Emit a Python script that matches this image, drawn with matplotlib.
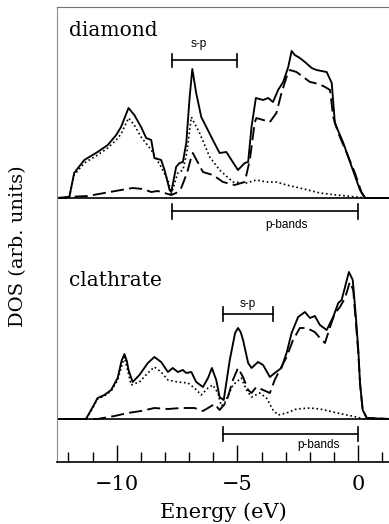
import matplotlib
matplotlib.use('Agg')
import matplotlib.pyplot as plt
import numpy as np
from matplotlib.ticker import MultipleLocator

# energies (eV) and DOS heights (arb. units)
# diamond, total
E_dia_tot = [-12.5, -12.17, -11.96, -11.76, -11.34, -10.79, -10.37, -10.02, -9.82, -9.51,
             -9.27, -8.99, -8.78, -8.57, -8.44, -8.16, -8.02, -7.81, -7.74, -7.54, -7.40,
             -7.26, -7.12, -6.98, -6.87, -6.71, -6.50, -6.29, -6.02, -5.74, -5.46, -5.25,
             -4.98, -4.70, -4.56, -4.42, -4.24, -3.94, -3.73, -3.53, -3.32, -3.11, -2.90,
             -2.76, -2.63, -2.42, -2.21, -1.93, -1.73, -1.31, -1.10, -0.97, -0.62, -0.27,
             0.07, 0.28, 1.3]
dos_dia_tot = [0, 0, 1, 25, 38, 46, 53, 63, 71, 90,
               83, 71, 60, 58, 40, 38, 28, 8, 6, 31, 35,
               36, 55, 101, 129, 105, 81, 71, 58, 45, 46, 38,
               28, 35, 36, 71, 100, 98, 100, 96, 108, 116, 131,
               147, 143, 140, 136, 130, 128, 126, 115, 75, 55, 31,
               8, 0, 0]
# diamond, s-projected (dotted)
E_dia_s = [-12.5, -12.17, -11.96, -11.76, -11.34, -10.79, -10.37, -10.02, -9.82, -9.51,
           -9.27, -8.99, -8.57, -8.16, -7.88, -7.74, -7.47, -7.26, -7.10, -6.91, -6.57,
           -6.15, -5.74, -5.19, -4.63, -4.22, -3.80, -3.39, -2.97, -2.42, -1.59, -0.90,
           -0.07, 0.3, 1.3]
dos_dia_s = [0, 0, 1, 23, 35, 43, 50, 58, 64, 80,
             73, 61, 48, 31, 18, 4, 25, 28, 45, 81, 65,
             41, 28, 16, 15, 18, 16, 16, 13, 10, 5, 3,
             1, 0, 0]
# diamond, p-projected (dashed)
E_dia_p = [-12.5, -12.03, -11.20, -10.51, -9.82, -9.34, -8.92, -8.57, -8.30, -8.02,
           -7.74, -7.54, -7.33, -7.09, -6.91, -6.85, -6.43, -6.02, -5.60, -5.12, -4.70,
           -4.49, -4.29, -4.22, -3.94, -3.66, -3.39, -3.18, -2.97, -2.83, -2.56, -2.28,
           -2.00, -1.80, -1.45, -1.17, -1.04, -0.83, -0.48, -0.14, 0.14, 0.3, 1.3]
dos_dia_p = [0, 1, 2, 5, 8, 10, 9, 6, 7, 5,
             3, 5, 10, 25, 41, 45, 26, 23, 16, 13, 16,
             38, 75, 80, 78, 76, 85, 105, 121, 128, 126, 121,
             116, 115, 112, 108, 81, 65, 45, 25, 5, 0, 0]

# clathrate, total
E_cla_tot = [-12.5, -11.27, -11.06, -10.79, -10.51, -10.23, -9.96, -9.80, -9.68, -9.58,
             -9.51, -9.34, -9.06, -8.71, -8.44, -8.16, -7.88, -7.68, -7.47, -7.26, -7.12,
             -6.91, -6.71, -6.43, -6.22, -6.06, -5.88, -5.74, -5.57, -5.32, -5.10, -4.98,
             -4.87, -4.77, -4.56, -4.42, -4.15, -3.94, -3.66, -3.46, -3.18, -2.97, -2.76,
             -2.49, -2.21, -2.00, -1.80, -1.59, -1.31, -1.04, -0.83, -0.69, -0.55, -0.39,
             -0.23, -0.10, 0.0, 0.07, 0.18, 0.35, 1.3]
dos_cla_tot = [0, 0, 9, 21, 24, 29, 41, 58, 65, 58,
               49, 37, 44, 56, 62, 57, 47, 51, 47, 49, 46,
               47, 37, 32, 41, 51, 39, 22, 19, 59, 86, 91,
               87, 79, 56, 51, 57, 54, 42, 46, 51, 66, 86,
               102, 107, 101, 103, 94, 89, 102, 116, 119, 132, 147,
               139, 102, 69, 36, 9, 1, 0]
# clathrate, s-projected (dotted)
E_cla_s = [-12.5, -11.27, -11.06, -10.79, -10.51, -10.23, -9.96, -9.68, -9.40, -9.06,
           -8.71, -8.44, -8.16, -7.88, -7.47, -7.05, -6.78, -6.50, -6.22, -6.02, -5.81,
           -5.67, -5.53, -5.19, -4.84, -4.63, -4.42, -4.08, -3.80, -3.53, -3.32, -2.97,
           -2.56, -2.00, -1.59, -1.04, -0.48, -0.07, 0.2, 1.3]
dos_cla_s = [0, 0, 8, 20, 23, 28, 39, 62, 34, 37,
             46, 52, 47, 39, 37, 36, 31, 24, 31, 34, 26,
             13, 16, 34, 41, 29, 22, 26, 21, 9, 4, 6,
             10, 11, 10, 7, 4, 2, 0, 0]
# clathrate, p-projected (dashed)
E_cla_p = [-12.5, -10.8, -10.09, -9.54, -8.99, -8.44, -7.88, -7.33, -6.78, -6.43,
           -6.15, -5.95, -5.74, -5.46, -5.19, -4.98, -4.77, -4.56, -4.42, -4.22, -3.94,
           -3.66, -3.46, -3.25, -2.97, -2.70, -2.42, -2.14, -1.80, -1.59, -1.38, -1.17,
           -0.97, -0.76, -0.55, -0.35, -0.21, -0.10, 0.0, 0.07, 0.18, 0.35, 1.3]
dos_cla_p = [0, 0, 3, 6, 8, 11, 10, 11, 11, 8,
             12, 15, 9, 17, 39, 51, 42, 29, 26, 32, 29,
             26, 39, 49, 62, 79, 91, 91, 87, 81, 76, 92,
             106, 112, 121, 137, 129, 96, 66, 36, 9, 1, 0]

# band markers: (start, end) in eV
sp_dia = (-7.7, -5.0)
pb_dia = (-7.7, 0.0)
sp_cla = (-5.6, -3.53)
pb_cla = (-5.6, 0.0)

base_dia = 264
base_cla = 43

fig = plt.figure(figsize=(3.89, 5.24), dpi=100)
ax = fig.add_axes([57 / 389, 1 - 462 / 524, 1 - 57 / 389, 455 / 524])
ax.set_xlim(-12.47, 1.27)
ax.set_ylim(0, 455)

solid = dict(color='black', lw=1.35, ls='-')
dotted = dict(color='black', lw=1.2, ls=(0, (1, 1.6)))
dashed = dict(color='black', lw=1.35, ls=(0, (7, 2.8)))

for base, tot, s, p in [(base_dia, (E_dia_tot, dos_dia_tot), (E_dia_s, dos_dia_s), (E_dia_p, dos_dia_p)),
                        (base_cla, (E_cla_tot, dos_cla_tot), (E_cla_s, dos_cla_s), (E_cla_p, dos_cla_p))]:
    ax.axhline(base, color='black', lw=1.2)
    ax.plot(s[0], base + np.array(s[1]), **dotted)
    ax.plot(p[0], base + np.array(p[1]), **dashed)
    ax.plot(tot[0], base + np.array(tot[1]), **solid)


def band_bar(span, y, cap, label, lx, ly):
    ax.plot(span, [y, y], color='black', lw=1.2)
    for xe in span:
        ax.plot([xe, xe], [y - cap, y + cap], color='black', lw=1.2)
    ax.text(lx, ly, label, ha='center', va='center', fontsize=8.5, family='Liberation Sans')


band_bar(sp_dia, 402, 6.5, 's-p', -6.6, 418)
band_bar(pb_dia, 251, 7.5, 'p-bands', -2.96, 237)
band_bar(sp_cla, 148, 7, 's-p', -4.59, 158)
band_bar(pb_cla, 28, 7, 'p-bands', -1.63, 17)

ax.text(-11.96, 431, 'diamond', ha='left', va='center', fontsize=14.5, family='DejaVu Serif')
ax.text(-11.96, 181, 'clathrate', ha='left', va='center', fontsize=14.5, family='DejaVu Serif')

ax.xaxis.set_major_locator(MultipleLocator(5))
ax.xaxis.set_minor_locator(MultipleLocator(1))
ax.tick_params(axis='x', which='major', direction='in', length=12, width=1.0, pad=9,
               labelsize=15, top=False)
ax.tick_params(axis='x', which='minor', direction='in', length=7, width=1.0, top=False)
ax.set_yticks([])
for lab in ax.get_xticklabels():
    lab.set_family('DejaVu Serif')

ax.spines['right'].set_visible(False)
ax.spines['left'].set_color('0.55')
ax.spines['top'].set_color('0.45')
ax.spines['bottom'].set_linewidth(1.2)

ax.set_xlabel('Energy (eV)', fontsize=15, family='DejaVu Serif', labelpad=6)
fig.text(18 / 389, 1 - 246 / 524, 'DOS (arb. units)', rotation=90, ha='center', va='center',
         fontsize=14, family='DejaVu Serif')

plt.savefig('out.png', dpi=100)
